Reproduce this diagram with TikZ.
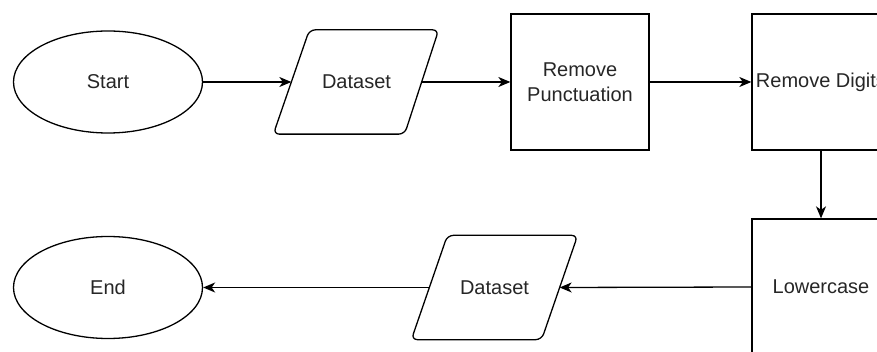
\documentclass[tikz,border=0pt]{standalone}
\usepackage{fontspec}
\setmainfont{Liberation Sans}
\usetikzlibrary{arrows.meta,calc,shapes.geometric}
\begin{document}
\begin{tikzpicture}[x=1pt,y=-1pt,
  base/.style={line width=1.3pt, font=\fontsize{20}{25}\selectfont, align=center, inner sep=0pt, text=black!85},
  term/.style={base, draw, ellipse, minimum width=189pt, minimum height=102pt},
  proc/.style={base, draw, rectangle, minimum width=138pt, minimum height=136pt},
  io/.style={base, minimum width=129pt, minimum height=103pt},
  para/.style={line width=1.3pt, rounded corners=6pt},
  conn/.style={line width=1.3pt, -{Stealth[length=12pt,width=10pt,inset=3.5pt]}}]
\useasboundingbox (0,0) rectangle (877,352);
\clip (0,0) rectangle (877,352);
\node[term] (start) at (108,82) {Start};
\node[io] (ds1) at (356.5,82) {Dataset};
\draw[para] ($(ds1.north west)+(18,0)$) -- ($(ds1.north east)+(17,0)$) -- ($(ds1.south east)+(-17,0)$) -- ($(ds1.south west)+(-18,0)$) -- cycle;
\node[proc] (rp) at (580,82) {Remove\\Punctuation};
\node[proc] (rd) at (821,82) {Remove Digits};
\node[proc] (lc) at (821,287) {Lowercase};
\node[io] (ds2) at (494.5,287.5) {Dataset};
\draw[para] ($(ds2.north west)+(18,0)$) -- ($(ds2.north east)+(18,0)$) -- ($(ds2.south east)+(-18,0)$) -- ($(ds2.south west)+(-18,0)$) -- cycle;
\node[term] (end) at (108,287.5) {End};
\draw[conn] (start.east) -- (ds1.west);
\draw[conn] (ds1.east) -- (rp.west);
\draw[conn] (rp.east) -- (rd.west);
\draw[conn] (rd.south) -- (lc.north);
\draw[conn] (lc.west) -- (ds2.east);
\draw[conn] (ds2.west) -- (end.east);
\end{tikzpicture}
\end{document}
